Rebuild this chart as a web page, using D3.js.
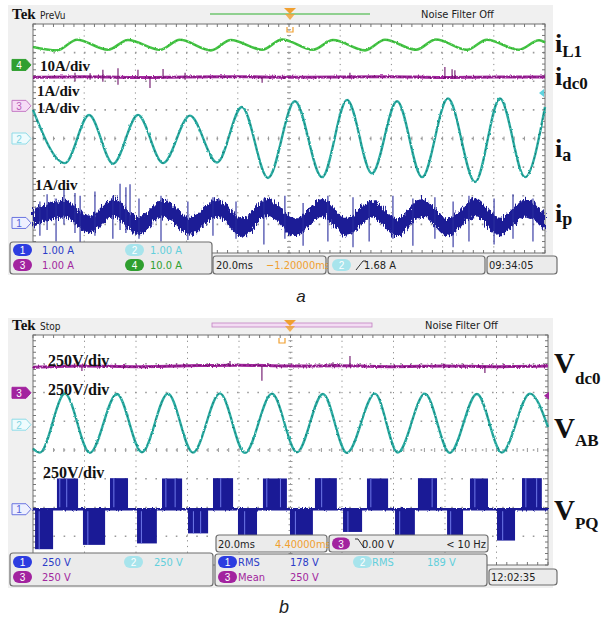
<!DOCTYPE html>
<html><head><meta charset="utf-8">
<script src="https://cdn.jsdelivr.net/npm/d3@7"></script>
<style>body{margin:0;background:#fff}svg{display:block}</style>
</head><body>
<svg id="c" width="603" height="618"></svg>
<script>
// ================= DATA (time in ms, 20 ms/div; values in screen divisions) =================
const timeDomainMs = [0, 200];
const divDomain = [-4, 4];

// ---- Panel a ----
const iL1 = [[0,3.2],[9.4,3.08],[17.2,3.45],[29.3,3.1],[37.1,3.44],[49.6,3.1],[57.4,3.45],[69.5,3.08],[77.3,3.44],[89.5,3.1],[97.3,3.46],[109.4,3.1],[117.2,3.44],[129.7,3.08],[137.5,3.45],[149.6,3.1],[157.4,3.46],[169.5,3.1],[177.3,3.45],[189.8,3.1],[197.7,3.43],[200,3.35]];
const idc0 = [[0,2.14],[20,2.16],[40,2.13],[60,2.15],[80,2.16],[100,2.14],[120,2.15],[140,2.16],[160,2.13],[180,2.15],[200,2.15]];
const idc0Spikes = [[16.4,2.3,2.0],[22.3,2.28,2.05],[27.3,2.4,1.98],[33.2,2.45,1.88],[41,2.4,2.1],[45.7,2.15,1.76],[50.8,2.43,2.1],[59.4,2.3,2.05],[89.5,2.15,1.95],[123.8,2.3,2.1],[160.9,2.5,2.1],[163.7,2.42,2.1],[164.8,2.38,2.1]];
const ia = [[0,1.0],[12.5,-0.86],[21.9,0.82],[31.3,-0.88],[41,0.82],[50.8,-0.86],[61.3,0.80],[71.9,-0.84],[81.6,1.10],[91.8,-1.38],[102.3,1.30],[112.9,-1.35],[122.7,1.35],[132.4,-1.22],[142.2,1.30],[152,-1.35],[162.1,1.40],[172.7,-1.52],[182.4,1.40],[192.2,-1.35],[200,1.1]];
const ipCenter = [[0,-2.8],[12.5,-2.45],[21.9,-3.0],[31.3,-2.42],[41,-3.05],[50.8,-2.45],[61.3,-3.05],[71.9,-2.42],[81.6,-3.1],[91.8,-2.4],[102.3,-3.1],[112.9,-2.42],[122.7,-3.08],[132.4,-2.45],[142.2,-3.1],[152,-2.42],[162.1,-3.1],[172.7,-2.4],[182.4,-3.08],[192.2,-2.45],[200,-2.9]];
const ipBandHalf = 0.31;
const ipSpikes = [[2.7,-2.2,-3.4],[5.5,-1.95,-3.2],[9.0,-2.1,-3.6],[12.1,-1.62,-3.0],[16.4,-1.9,-3.3],[18.4,-2.0,-3.7],[24.2,-1.85,-3.4],[31.2,-2.0,-3.5],[34.0,-1.58,-3.2],[36.3,-1.7,-3.3],[37.9,-1.6,-3.1],[41.4,-2.1,-3.5],[50.0,-2.0,-3.6],[60.5,-2.2,-3.55],[70.3,-2.05,-3.4],[79.3,-2.2,-3.5],[90.2,-2.1,-3.7],[98.4,-2.0,-3.5],[105.5,-2.25,-3.75],[115.2,-2.0,-3.6],[125.0,-2.05,-3.8],[131.3,-2.2,-3.6],[140.6,-2.0,-3.5],[148.4,-2.1,-3.75],[157.0,-2.05,-3.5],[164.1,-2.2,-3.8],[170.3,-2.0,-3.6],[180.1,-2.1,-3.7],[187.5,-1.95,-3.5],[195.3,-2.1,-3.6]];
const markersA = [["4",2.57],["3",1.14],["2",0.0],["1",-2.95]];
const trigLevelA = 1.59;
const scaleLabelsA = ["10A/div","1A/div","1A/div","1A/div"];
const statusA = {ch1:"1.00 A", ch2:"1.00 A", ch3:"1.00 A", ch4:"10.0 A", timebase:"20.0ms", delay:"\u22121.20000ms", trig:"1.68 A", clock:"09:34:05"};

// ---- Panel b ----
const vdc0 = [[0,2.88],[20,2.92],[40,2.9],[60,2.93],[80,2.95],[100,2.92],[120,2.93],[140,2.9],[160,2.92],[180,2.9],[200,2.92]];
const vdc0Spikes = [[19.0,2.9,2.75],[76.5,3.1,2.9],[88.9,2.93,2.41],[116.5,3.05,2.9],[123.1,3.27,2.9],[175.5,2.93,2.68]];
const vab = [[0,0.05],[2.7,-0.09],[12.4,1.96],[22.1,-0.1],[32.6,1.95],[42.3,-0.08],[52.4,1.96],[62.1,-0.09],[72.6,1.97],[82.3,-0.1],[92.8,1.96],[102.5,-0.08],[112.6,1.95],[121.9,-0.1],[132.8,1.96],[141.7,-0.09],[152.2,1.96],[161.9,-0.1],[172.4,1.95],[182.1,-0.09],[193,1.96],[200,0.8]];
const vpqZero = -2.06;
const vpqHigh = [[9.3,17.5],[29.9,36.9],[50.1,57.9],[69.9,77.7],[89.3,98.6],[109.5,118.0],[129.7,137.9],[149.5,156.9],[169.7,176.7],[189.9,197.6]];
const vpqHighLevel = [-0.99,-0.98,-0.99,-0.98,-0.99,-0.98,-0.99,-0.98,-0.99,-0.98];
const vpqLow = [[0.8,7.8],[19.4,28.0],[40.4,48.1],[60.2,68.0],[79.6,87.0],[99.8,108.7],[120.4,127.8],[140.6,148.3],[160.8,167.0],[180.2,187.2]];
const vpqLowLevel = [-3.45,-3.3,-3.25,-2.9,-3.2,-3.2,-2.85,-3.2,-3.2,-3.15];
const vpqGaps = [10.4,13.1,31.4,51.6,55.2,72.9,90.8,96.1,112.1,131.2,155.0,171.6,191.4,195.6,2.4,21.3,42.1,62.3,65.1,82.2,101.9,122.3,142.4,162.2,182.4];
const markersB = [["3",1.99],["2",0.88],["1",-2.06]];
const trigLevelB = 1.89;
const scaleLabelsB = ["250V/div","250V/div","250V/div"];
const statusB = {ch1:"250 V", ch2:"250 V", ch3:"250 V", timebase:"20.0ms", delay:"4.40000ms", trig:"0.00 V", trigFreq:"< 10 Hz", clock:"12:02:35",
  m1:["RMS","178 V"], m2:["RMS","189 V"], m3:["Mean","250 V"]};

// ================= STYLE =================
const C = {
  ch1:"#1a1a96", ch1Hi:"#3a44d6", ch1Spike:"#2a2e9e", ch1Pill:"#2c3ce0", ch1Text:"#2c3cc8",
  ch2:"#2aaea4", ch2Dark:"#17706b", ch2Pill:"#a7e4ec", ch2Text:"#62cfdc",
  ch3:"#a2279e", ch3Dark:"#6c0f69", ch3Pill:"#a2239f",
  ch4:"#45c545", ch4Dark:"#2a8c2a", ch4Pill:"#2f9f2f",
  orange:"#f0a030", frame:"#f0f0f0", box:"#ebebeb", boxStroke:"#6f6f6f"
};
const SERIF = "'Liberation Serif','Times New Roman',serif";
const NARROW = "'Liberation Sans Narrow','Arial Narrow','DejaVu Sans Condensed',sans-serif";
const SANS = "'Liberation Sans',Arial,sans-serif";

const svg = d3.select("#c");
const defs = svg.append("defs");
function noiseFilter(id, freq, scale, seed) {
  const f = defs.append("filter").attr("id", id).attr("filterUnits", "userSpaceOnUse")
    .attr("x", 0).attr("y", 0).attr("width", 603).attr("height", 618);
  f.append("feTurbulence").attr("type", "fractalNoise").attr("baseFrequency", freq).attr("numOctaves", 2).attr("seed", seed).attr("result", "n");
  f.append("feDisplacementMap").attr("in", "SourceGraphic").attr("in2", "n").attr("scale", scale)
    .attr("xChannelSelector", "G").attr("yChannelSelector", "R");
}
noiseFilter("nzHeavy", "0.9 0.12", 10, 3);
noiseFilter("nzMed", "0.8 0.3", 2.8, 5);
noiseFilter("nzLight", "0.6 0.3", 2.2, 7);

function txt(g, x, y, s, o = {}) {
  return g.append("text").attr("x", x).attr("y", y).text(s)
    .attr("font-family", o.family || NARROW).attr("font-size", o.size || 11)
    .attr("font-weight", o.weight || "normal").attr("font-style", o.style || "normal")
    .attr("fill", o.fill || "#222").attr("text-anchor", o.anchor || "start");
}

function grid(g, x, y) {
  const [x0, x1] = x.range(), [y1, y0] = y.range();
  g.append("rect").attr("x", x0).attr("y", y0).attr("width", x1 - x0).attr("height", y1 - y0).attr("fill", "#fff");
  d3.range(1, 10).forEach(i => {
    const xx = x(i * 20);
    g.append("line").attr("x1", xx).attr("x2", xx).attr("y1", y0).attr("y2", y1)
      .attr("stroke", "#8c8c8c").attr("stroke-width", 1).attr("stroke-dasharray", "1.2,4.5");
  });
  d3.range(-3, 4).forEach(j => {
    const yy = y(j);
    g.append("line").attr("x1", x0).attr("x2", x1).attr("y1", yy).attr("y2", yy)
      .attr("stroke", "#9a9a9a").attr("stroke-width", 1.6).attr("stroke-dasharray", "1.6,8.6");
  });
  const tk = g.append("g").attr("stroke", "#777").attr("stroke-width", 1);
  d3.range(0, 200.01, 4).forEach(t => {
    const xx = x(t);
    tk.append("line").attr("x1", xx).attr("x2", xx).attr("y1", y0).attr("y2", y0 + 3);
    tk.append("line").attr("x1", xx).attr("x2", xx).attr("y1", y1).attr("y2", y1 - 3);
    tk.append("line").attr("x1", xx).attr("x2", xx).attr("y1", y(0) - 2).attr("y2", y(0) + 2).attr("stroke", "#999");
  });
  d3.range(-4, 4.01, 0.2).forEach(v => {
    const yy = y(v);
    tk.append("line").attr("x1", x0).attr("x2", x0 + 3).attr("y1", yy).attr("y2", yy);
    tk.append("line").attr("x1", x1).attr("x2", x1 - 3).attr("y1", yy).attr("y2", yy);
    tk.append("line").attr("x1", x(100) - 2).attr("x2", x(100) + 2).attr("y1", yy).attr("y2", yy).attr("stroke", "#999");
  });
  g.append("rect").attr("x", x0).attr("y", y0).attr("width", x1 - x0).attr("height", y1 - y0)
    .attr("fill", "none").attr("stroke", "#707070").attr("stroke-width", 1);
}

function trace(g, x, y, pts, color, width, dark, dash, filt) {
  const line = d3.line().x(d => x(d[0])).y(d => y(d[1])).curve(d3.curveMonotoneX);
  const gg = g.append("g");
  if (filt) gg.attr("filter", `url(#${filt})`);
  gg.append("path").attr("d", line(pts)).attr("fill", "none").attr("stroke", color).attr("stroke-width", width).attr("stroke-linejoin", "round");
  if (dark) gg.append("path").attr("d", line(pts)).attr("fill", "none").attr("stroke", dark).attr("stroke-width", 0.9).attr("stroke-dasharray", dash || "2,3");
}
function spikes(g, x, y, list, color, w) {
  g.selectAll(null).data(list).enter().append("line")
    .attr("x1", d => x(d[0])).attr("x2", d => x(d[0])).attr("y1", d => y(d[1])).attr("y2", d => y(d[2]))
    .attr("stroke", color).attr("stroke-width", w || 1);
}
function chMarker(g, xLeft, yy, label, style) {
  const h = 11;
  g.append("path").attr("d", `M${xLeft},${yy - h / 2} H${xLeft + 14} L${xLeft + 19},${yy} L${xLeft + 14},${yy + h / 2} H${xLeft} Z`)
    .attr("fill", style.fill).attr("stroke", style.stroke).attr("stroke-width", 1);
  txt(g, xLeft + 7, yy + 4, label, { size: 10, fill: style.text, anchor: "middle", family: SANS });
}
function pill(g, x, yc, label, fill, w) {
  w = w || 19;
  g.append("rect").attr("x", x).attr("y", yc - 6).attr("width", w).attr("height", 12).attr("rx", 6).attr("fill", fill);
  txt(g, x + w / 2, yc + 4, label, { size: 10, fill: "#fff", anchor: "middle", family: SANS });
}
function box(g, x0, y0, x1, y1) {
  g.append("rect").attr("x", x0).attr("y", y0).attr("width", x1 - x0).attr("height", y1 - y0).attr("rx", 3)
    .attr("fill", C.box).attr("stroke", C.boxStroke).attr("stroke-width", 1.2);
}
function trigMarker(g, xc, ytop, small) {
  g.append("path").attr("d", `M${xc - 6},${ytop} H${xc + 6} L${xc},${ytop + 6} Z`).attr("fill", C.orange);
  g.append("path").attr("d", `M${xc - 5},${ytop + 6} H${xc + 5} L${xc},${ytop + 12} Z`).attr("fill", C.orange).attr("opacity", 0.8);
  g.append("path").attr("d", `M${small[0] - 3},${small[1]} v5 h6 v-5`).attr("fill", "none").attr("stroke", C.orange).attr("stroke-width", 1.2);
}
function labelIV(g, x, yBase, main, sub, mainSize, subSize, subDy) {
  const t = g.append("text").attr("x", x).attr("y", yBase).attr("font-family", SERIF).attr("font-weight", "bold").attr("fill", "#111");
  t.append("tspan").attr("font-size", mainSize).text(main);
  t.append("tspan").attr("font-size", subSize).attr("dy", subDy).text(sub);
}

// ================= PANEL A =================
const xA = d3.scaleLinear().domain(timeDomainMs).range([33, 545]);
const yA = d3.scaleLinear().domain(divDomain).range([253, 24]);
const gA = svg.append("g");
gA.append("rect").attr("x", 8).attr("y", 5).attr("width", 545).attr("height", 270).attr("fill", C.frame);
txt(gA, 12, 19, "Tek", { family: SERIF, weight: "bold", size: 15, fill: "#111" });
txt(gA, 40, 19, "PreVu", { size: 10, fill: "#222" });
gA.append("line").attr("x1", 210).attr("x2", 370).attr("y1", 14).attr("y2", 14).attr("stroke", "#8fd08f").attr("stroke-width", 2);
txt(gA, 421, 18, "Noise Filter Off", { size: 11, fill: "#222" });
grid(gA, xA, yA);
trigMarker(gA, 290, 8, [290, 27]);

const plotA = gA.append("g");
trace(plotA, xA, yA, iL1, C.ch4, 2.6, C.ch4Dark, "1,4", "nzLight");
trace(plotA, xA, yA, idc0, C.ch3, 3.0, C.ch3Dark, "3,2", "nzMed");
spikes(plotA, xA, yA, idc0Spikes, C.ch3Dark, 1.1);
trace(plotA, xA, yA, ia, C.ch2, 2.4, C.ch2Dark, "2,3", "nzLight");
// ip noisy band
const ipArea = d3.area().x(d => xA(d[0])).y0(d => yA(d[1] - ipBandHalf)).y1(d => yA(d[1] + ipBandHalf)).curve(d3.curveMonotoneX);
const ipG = plotA.append("g").attr("filter", "url(#nzHeavy)");
ipG.append("path").attr("d", ipArea(ipCenter)).attr("fill", C.ch1);
spikes(plotA, xA, yA, ipSpikes, C.ch1Spike, 1.1);

// channel markers
const mStyleA = {
  "4": { fill: C.ch4Pill, stroke: C.ch4Pill, text: "#fff" },
  "3": { fill: "#f6dcf6", stroke: "#c47ac4", text: "#b65cb6" },
  "2": { fill: "#eefbfd", stroke: "#8fdce8", text: "#7fd4e2" },
  "1": { fill: "#eef0ff", stroke: "#6b75e0", text: "#5560d8" }
};
markersA.forEach(([lab, lev]) => chMarker(gA, 12, yA(lev), lab, mStyleA[lab]));
gA.append("path").attr("d", `M${xA(200) - 6},${yA(trigLevelA)} l5,-4 v8 Z`).attr("fill", "#5fd3df");

// scale labels
const slPosA = [[40, 71], [37, 96], [37, 113], [35, 190]];
scaleLabelsA.forEach((s, i) => txt(gA, slPosA[i][0], slPosA[i][1], s, { family: SERIF, weight: "bold", size: 15, fill: "#111" }));

// right labels
labelIV(svg, 555, 52, "i", "L1", 26, 17, 5);
labelIV(svg, 555, 85, "i", "dc0", 26, 17, 4);
labelIV(svg, 555, 157, "i", "a", 26, 18, 4);
labelIV(svg, 555, 222, "i", "p", 26, 18, 3);

// status a
box(gA, 10, 242, 212, 274);
pill(gA, 13, 250, "1", C.ch1Pill); txt(gA, 42, 254, statusA.ch1, { fill: C.ch1Text });
pill(gA, 125, 250, "2", C.ch2Pill); txt(gA, 150, 254, statusA.ch2, { fill: C.ch2Text });
pill(gA, 13, 265, "3", C.ch3Pill); txt(gA, 42, 269, statusA.ch3, { fill: C.ch3 });
pill(gA, 125, 265, "4", C.ch4Pill); txt(gA, 150, 269, statusA.ch4, { fill: C.ch4Pill });
box(gA, 213, 256, 326, 274);
txt(gA, 216, 269, statusA.timebase, { fill: "#222" });
txt(gA, 266, 269, statusA.delay, { fill: C.orange });
box(gA, 328, 256, 485, 274);
pill(gA, 332, 265, "2", C.ch2Pill);
gA.append("path").attr("d", "M356,270 L363,261 H366").attr("fill", "none").attr("stroke", "#333").attr("stroke-width", 1);
txt(gA, 364, 269, statusA.trig, { fill: "#222" });
box(gA, 487, 256, 557, 274);
txt(gA, 489, 269, statusA.clock, { fill: "#222" });
txt(svg, 301, 302, "a", { family: SANS, style: "italic", size: 17, fill: "#222", anchor: "middle" });

// ================= PANEL B =================
const xB = d3.scaleLinear().domain(timeDomainMs).range([33, 548]);
const yB = d3.scaleLinear().domain(divDomain).range([565, 335]);
const gB = svg.append("g");
gB.append("rect").attr("x", 8).attr("y", 318).attr("width", 545).attr("height", 270).attr("fill", C.frame);
txt(gB, 12, 330, "Tek", { family: SERIF, weight: "bold", size: 15, fill: "#111" });
txt(gB, 40, 330, "Stop", { size: 10, fill: "#222" });
gB.append("rect").attr("x", 212).attr("y", 323).attr("width", 160).attr("height", 4).attr("fill", "#f3dcf3").attr("stroke", "#c080c0").attr("stroke-width", 0.8);
txt(gB, 425, 329, "Noise Filter Off", { size: 11, fill: "#222" });
grid(gB, xB, yB);
trigMarker(gB, 290, 320, [282, 338]);

const plotB = gB.append("g");
trace(plotB, xB, yB, vdc0, C.ch3, 3.0, C.ch3Dark, "3,2", "nzMed");
spikes(plotB, xB, yB, vdc0Spikes, C.ch3Dark, 1.1);
trace(plotB, xB, yB, vab, C.ch2, 2.4, C.ch2Dark, "2,3", "nzLight");
// VPQ
const vpg = plotB.append("g");
const vpz = vpg.append("g").attr("filter", "url(#nzMed)");
vpz.append("line").attr("x1", xB(0)).attr("x2", xB(200)).attr("y1", yB(vpqZero)).attr("y2", yB(vpqZero)).attr("stroke", C.ch1).attr("stroke-width", 2.6);
vpqHigh.forEach((b, i) => vpg.append("rect").attr("x", xB(b[0])).attr("width", xB(b[1]) - xB(b[0]))
  .attr("y", yB(vpqHighLevel[i])).attr("height", yB(vpqZero) - yB(vpqHighLevel[i])).attr("fill", C.ch1));
vpqLow.forEach((b, i) => vpg.append("rect").attr("x", xB(b[0])).attr("width", xB(b[1]) - xB(b[0]))
  .attr("y", yB(vpqZero)).attr("height", yB(vpqLowLevel[i]) - yB(vpqZero)).attr("fill", C.ch1));
vpqGaps.forEach(t => {
  let hi = vpqHigh.findIndex(b => t >= b[0] && t <= b[1]);
  let lo = vpqLow.findIndex(b => t >= b[0] && t <= b[1]);
  let top, bot;
  if (hi >= 0) { top = yB(vpqHighLevel[hi]); bot = yB(vpqZero) - 2; }
  else if (lo >= 0) { top = yB(vpqZero) + 2; bot = yB(vpqLowLevel[lo]); }
  else return;
  vpg.append("line").attr("x1", xB(t)).attr("x2", xB(t)).attr("y1", top).attr("y2", bot).attr("stroke", "#6f78e8").attr("stroke-width", 1);
});

const mStyleB = {
  "3": { fill: C.ch3Pill, stroke: C.ch3Pill, text: "#fff" },
  "2": { fill: "#eefbfd", stroke: "#8fdce8", text: "#7fd4e2" },
  "1": { fill: "#eef0ff", stroke: "#6b75e0", text: "#5560d8" }
};
markersB.forEach(([lab, lev]) => chMarker(gB, 12, yB(lev), lab, mStyleB[lab]));
gB.append("path").attr("d", `M${xB(200) - 4},${yB(trigLevelB)} l5,-4 v8 Z`).attr("fill", C.ch3);

const slPosB = [[48, 366], [48, 395], [43, 478]];
scaleLabelsB.forEach((s, i) => txt(gB, slPosB[i][0], slPosB[i][1], s, { family: SERIF, weight: "bold", size: 16, fill: "#111" }));

labelIV(svg, 554, 373, "V", "dc0", 29, 17, 11);
labelIV(svg, 554, 438, "V", "AB", 29, 17, 8);
labelIV(svg, 554, 520, "V", "PQ", 29, 17, 9);

// status b
box(gB, 216, 535, 327, 552);
txt(gB, 218, 548, statusB.timebase, { fill: "#222" });
txt(gB, 275, 548, statusB.delay, { fill: C.orange });
box(gB, 329, 535, 488, 552);
pill(gB, 332, 543.5, "3", C.ch3Pill, 18);
gB.append("path").attr("d", "M355,539 H358 L364,548").attr("fill", "none").attr("stroke", "#333").attr("stroke-width", 1);
txt(gB, 362, 548, statusB.trig, { fill: "#222" });
txt(gB, 486, 548, statusB.trigFreq, { fill: "#222", anchor: "end" });
box(gB, 10, 553, 213, 586);
pill(gB, 13, 562, "1", C.ch1Pill); txt(gB, 42, 566, statusB.ch1, { fill: C.ch1Text });
pill(gB, 124, 562, "2", C.ch2Pill); txt(gB, 154, 566, statusB.ch2, { fill: C.ch2Text });
pill(gB, 13, 577, "3", C.ch3Pill); txt(gB, 42, 581, statusB.ch3, { fill: C.ch3 });
box(gB, 215, 554, 487, 586);
pill(gB, 218, 562, "1", C.ch1Pill); txt(gB, 238, 566, statusB.m1[0], { fill: C.ch1Text }); txt(gB, 290, 566, statusB.m1[1], { fill: C.ch1Text });
pill(gB, 353, 562, "2", C.ch2Pill); txt(gB, 372, 566, statusB.m2[0], { fill: C.ch2Text }); txt(gB, 427, 566, statusB.m2[1], { fill: C.ch2Text });
pill(gB, 218, 577, "3", C.ch3Pill); txt(gB, 238, 581, statusB.m3[0], { fill: C.ch3 }); txt(gB, 290, 581, statusB.m3[1], { fill: C.ch3 });
box(gB, 489, 569, 557, 585);
txt(gB, 491, 581, statusB.clock, { fill: "#222" });
txt(svg, 284, 613, "b", { family: SANS, style: "italic", size: 18, fill: "#222", anchor: "middle" });
</script>
</body></html>
